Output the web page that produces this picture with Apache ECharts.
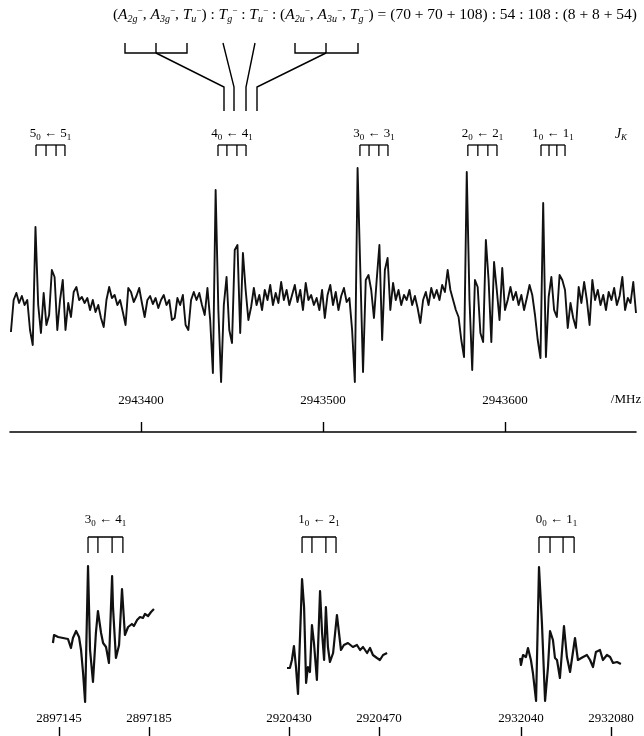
<!DOCTYPE html>
<html>
<head>
<meta charset="utf-8">
<script src="https://cdn.jsdelivr.net/npm/echarts@6/dist/echarts.min.js"></script>
<style>
html,body{margin:0;padding:0;background:#fff;}
#c{width:644px;height:736px;}
</style>
</head>
<body>
<div id="c"></div>
<script>
// ---------- DATA ----------
// main spectrum (MHz sampling grid, intensity in arbitrary units)
const mainStart = 2943328.5;
const mainStep = 1.5;
const mainIntensity = [
 -32, 0, 7, -3, 4, -5, 0, -30, -45, 73,
 -5, -33, 7, -25, -15, 30, 23, -30, 0, 20,
 -30, -3, -17, 8, 13, 0, 3, -3, 2, -10,
 0, -12, -5, -18, -27, 0, 13, 2, 5, -5,
 0, -12, -25, 12, 8, -2, 4, 12, -3, -17,
 0, 4, -4, 2, -8, 0, 5, -5, 0, -20,
 -18, 2, -5, 5, -25, -30, 0, 8, 0, 7,
 -5, -15, 12, -20, -73, 110, -10, -82, -5, 23,
 -30, -43, 50, 55, -33, 47, 10, -20, -7, 12,
 -5, 5, -10, 10, 0, 15, -5, 7, -3, 18,
 0, 10, -5, 5, 15, -2, 10, -10, 17, 0,
 5, -5, 2, -10, 10, -18, 5, 15, -5, 8,
 -10, 4, 12, -2, 2, -30, -82, 132, 30, -72,
 20, 25, 10, -18, 20, 55, -40, 30, 42, -10,
 17, 0, 10, -5, 5, 0, 10, -5, 4, -8,
 -23, 0, 8, -5, 12, 2, 10, 0, 15, 8,
 30, 10, 0, -10, -17, -40, -57, 128, 0, -70,
 20, 13, -33, -42, 60, 20, -42, 38, 10, -20,
 32, -10, 0, 13, 0, 8, -5, 5, -10, 2,
 15, 5, -15, -40, -58, 97, -57, 3, 23, -10,
 -17, 25, 20, 10, -28, -3, -18, -28, 13, -3,
 18, 0, -25, 20, 0, 10, -5, 5, -10, 8,
 0, 12, -5, 4, 23, -10, 2, -3, 18, -13
];
const mainTicks = [2943400, 2943500, 2943600];
const mainLevels = [['5','0','5','1'], ['4','0','4','1'], ['3','0','3','1'], ['2','0','2','1'], ['1','0','1','1']];
const mainSticks = [
 [2943342.3, 2943347.8, 2943353.3, 2943358.2],
 [2943442.3, 2943447.2, 2943452.7, 2943457.7],
 [2943520.3, 2943525.3, 2943530.7, 2943535.7],
 [2943579.6, 2943585.1, 2943590.6, 2943595.6],
 [2943619.8, 2943624.2, 2943628.5, 2943633.0]
];

// lower panels
const p1Freq = [2897142.3, 2897142.8, 2897144.6, 2897146.8, 2897149.0, 2897150.3, 2897151.2, 2897152.6, 2897153.9, 2897154.8,
 2897155.7, 2897156.6, 2897157.9, 2897158.8, 2897160.1, 2897161.4, 2897162.3, 2897163.7, 2897164.6, 2897165.9,
 2897167.2, 2897168.6, 2897169.0, 2897170.3, 2897171.7, 2897173.0, 2897174.3, 2897175.7, 2897177.4, 2897178.3,
 2897179.7, 2897181.0, 2897182.3, 2897183.2, 2897184.6, 2897185.9, 2897187.2];
const p1Int = [-7, 1, -1, -2, -3, -12, -2, 5, -1, -14, -37, -66, 70, -14, -46, 3, 25, 3, -7, -11,
 -27, 60, 29, -22, -9, 47, 1, 9, 12, 10, 16, 19, 18, 22, 20, 24, 27];
const p1Ticks = [2897145, 2897185];
const p1Sticks = [2897157.9, 2897162.3, 2897168.6, 2897173.4];
const p1Level = ['3','0','4','1'];

const p2Freq = [2920429.1, 2920430.4, 2920431.3, 2920432.2, 2920433.1, 2920434.0, 2920435.8, 2920436.7, 2920437.6, 2920438.4,
 2920439.3, 2920440.2, 2920441.1, 2920442.4, 2920443.8, 2920444.7, 2920445.6, 2920446.4, 2920447.3, 2920448.2,
 2920449.6, 2920451.3, 2920453.1, 2920454.4, 2920456.2, 2920458.4, 2920460.2, 2920461.6, 2920462.9, 2920464.7,
 2920466.0, 2920467.3, 2920469.1, 2920470.4, 2920471.8, 2920473.6];
const p2Int = [-32, -32, -24, -10, -31, -58, 57, 29, -47, -31, -36, 11, -7, -44, 45, 3, -24, 29, -11, -26,
 -17, 21, -14, -9, -7, -11, -9, -14, -11, -17, -12, -19, -22, -24, -19, -17];
const p2Ticks = [2920430, 2920470];
const p2Sticks = [2920435.8, 2920440.2, 2920446.4, 2920450.9];
const p2Level = ['1','0','2','1'];

const p3Freq = [2932039.6, 2932040.0, 2932040.9, 2932042.2, 2932043.1, 2932044.4, 2932045.3, 2932046.7, 2932048.0, 2932049.3,
 2932050.7, 2932052.0, 2932052.9, 2932054.2, 2932055.1, 2932056.0, 2932057.3, 2932059.1, 2932060.4, 2932061.8,
 2932064.0, 2932065.3, 2932067.6, 2932069.3, 2932070.7, 2932072.0, 2932073.3, 2932075.1, 2932076.4, 2932078.2,
 2932079.6, 2932080.9, 2932082.7, 2932084.4];
const p3Int = [-22, -29, -19, -21, -12, -24, -37, -65, 69, 13, -65, -31, 5, -4, -22, -24, -42, 10, -21, -36,
 -2, -24, -21, -19, -24, -31, -16, -14, -24, -19, -21, -27, -26, -28];
const p3Ticks = [2932040, 2932080];
const p3Sticks = [2932048.0, 2932052.9, 2932058.7, 2932063.6];
const p3Level = ['0','0','1','1'];

// ---------- CHART ----------
const SERIF = '"Liberation Serif", "DejaVu Serif", serif';
const richLab = {
  n: {fontFamily: SERIF, fontSize: 13, color: '#000'},
  s: {fontFamily: SERIF, fontSize: 9, color: '#000', padding: [8, 0, 0, 0]}
};
function lvl(a) { return '{n|' + a[0] + '}{s|' + a[1] + '}{n| \u2190 ' + a[2] + '}{s|' + a[3] + '}'; }

const mainData = mainIntensity.map((v, i) => [mainStart + i * mainStep, v]);
const pair = (f, v) => f.map((x, i) => [x, v[i]]);

function stickSeries(idx, sticks, labels, yTop, yBot, yLab) {
  return {
    type: 'custom', xAxisIndex: idx, yAxisIndex: idx, clip: false, silent: true, animation: false,
    data: sticks.map((s, k) => [s[0], s[1], s[2], s[3], k]),
    dimensions: ['a', 'b', 'c', 'd', 'k'],
    encode: {x: [0, 1, 2, 3]},
    renderItem(params, api) {
      const k = api.value(4);
      const xs = [0, 1, 2, 3].map(j => api.coord([api.value(j), yTop])[0]);
      const yT = api.coord([api.value(0), yTop])[1];
      const yB = api.coord([api.value(0), yBot])[1];
      const yL = api.coord([api.value(0), yLab])[1];
      const st = {stroke: '#000', lineWidth: 1.3};
      const ch = [{type: 'line', shape: {x1: xs[0], y1: yT, x2: xs[3], y2: yT}, style: st}];
      xs.forEach(x => ch.push({type: 'line', shape: {x1: x, y1: yT, x2: x, y2: yB}, style: st}));
      ch.push({type: 'text', style: {text: lvl(labels[k]), rich: richLab, x: (xs[0] + xs[3]) / 2, y: yL,
        align: 'center', verticalAlign: 'middle', fontFamily: SERIF}});
      return {type: 'group', children: ch};
    }
  };
}

function xAx(idx, min, max, ticks, showLine, tickLen, margin) {
  return {
    gridIndex: idx, type: 'value', min: min, max: max, position: 'bottom',
    axisLine: {show: showLine, onZero: false, lineStyle: {color: '#000', width: 1.6}},
    axisTick: {show: true, inside: true, length: tickLen, customValues: ticks, lineStyle: {color: '#000', width: 1.4}},
    axisLabel: {show: true, inside: true, margin: margin, customValues: ticks, formatter: v => String(v),
      fontFamily: SERIF, fontSize: 13, color: '#000'},
    splitLine: {show: false}
  };
}
function yAx(idx, min, max) {
  return {gridIndex: idx, type: 'value', min: min, max: max, show: false, splitLine: {show: false}};
}
const lineStyle = (w) => ({color: '#111', width: w, join: 'round'});

const chart = echarts.init(document.getElementById('c'));
chart.setOption({
  animation: false,
  backgroundColor: '#fff',
  grid: [
    {left: 10, width: 626, top: 100, height: 332},
    {left: 36.5, width: 135, top: 500, height: 236},
    {left: 266.5, width: 135, top: 500, height: 236},
    {left: 498.5, width: 135, top: 500, height: 236}
  ],
  xAxis: [
    xAx(0, 2943328, 2943672, mainTicks, true, 10, 25),
    xAx(1, 2897135, 2897195, p1Ticks, false, 9, 11),
    xAx(2, 2920420, 2920480, p2Ticks, false, 9, 11),
    xAx(3, 2932030, 2932090, p3Ticks, false, 9, 11)
  ],
  yAxis: [yAx(0, -132, 200), yAx(1, -100, 136), yAx(2, -100, 136), yAx(3, -100, 136)],
  series: [
    {type: 'line', xAxisIndex: 0, yAxisIndex: 0, data: mainData, showSymbol: false, lineStyle: lineStyle(1.9), silent: true},
    {type: 'line', xAxisIndex: 1, yAxisIndex: 1, data: pair(p1Freq, p1Int), showSymbol: false, lineStyle: lineStyle(2.2), silent: true},
    {type: 'line', xAxisIndex: 2, yAxisIndex: 2, data: pair(p2Freq, p2Int), showSymbol: false, lineStyle: lineStyle(2.2), silent: true},
    {type: 'line', xAxisIndex: 3, yAxisIndex: 3, data: pair(p3Freq, p3Int), showSymbol: false, lineStyle: lineStyle(2.2), silent: true},
    stickSeries(0, mainSticks, mainLevels, 155, 144, 166),
    stickSeries(1, [p1Sticks], [p1Level], 99, 83, 116),
    stickSeries(2, [p2Sticks], [p2Level], 99, 83, 116),
    stickSeries(3, [p3Sticks], [p3Level], 99, 83, 116)
  ],
  graphic: [
    {type: 'text', x: 637, y: 15, style: {
      text: '{n|(}{i|A}{b|2g}{p|\u2212}{n|, }{i|A}{b|3g}{p|\u2212}{n|, }{i|T}{b|u}{p|\u2212}{n|) : }{i|T}{b|g}{p|\u2212}{n| : }{i|T}{b|u}{p|\u2212}{n| : (}{i|A}{b|2u}{p|\u2212}{n|, }{i|A}{b|3u}{p|\u2212}{n|, }{i|T}{b|g}{p|\u2212}{n|) = (70 + 70 + 108) : 54 : 108 : (8 + 8 + 54)}',
      align: 'right', verticalAlign: 'middle',
      rich: {
        n: {fontFamily: SERIF, fontSize: 15.5, color: '#000'},
        i: {fontFamily: SERIF, fontSize: 15.5, fontStyle: 'italic', color: '#000'},
        b: {fontFamily: SERIF, fontSize: 10, fontStyle: 'italic', color: '#000', padding: [9, 0, 0, 0]},
        p: {fontFamily: SERIF, fontSize: 9, color: '#000', padding: [0, 0, 9, 0]}
      }
    }},
    {type: 'polyline', shape: {points: [[125, 43], [125, 53], [187, 53], [187, 43]]}, style: {stroke: '#000', lineWidth: 1.4, fill: null}},
    {type: 'line', shape: {x1: 156, y1: 43, x2: 156, y2: 53}, style: {stroke: '#000', lineWidth: 1.4}},
    {type: 'polyline', shape: {points: [[156, 53], [224, 87], [224, 111]]}, style: {stroke: '#000', lineWidth: 1.4, fill: null}},
    {type: 'polyline', shape: {points: [[223, 43], [234, 87], [234, 111]]}, style: {stroke: '#000', lineWidth: 1.4, fill: null}},
    {type: 'polyline', shape: {points: [[255, 43], [246, 87], [246, 111]]}, style: {stroke: '#000', lineWidth: 1.4, fill: null}},
    {type: 'polyline', shape: {points: [[295, 43], [295, 53], [358, 53], [358, 43]]}, style: {stroke: '#000', lineWidth: 1.4, fill: null}},
    {type: 'line', shape: {x1: 326, y1: 43, x2: 326, y2: 53}, style: {stroke: '#000', lineWidth: 1.4}},
    {type: 'polyline', shape: {points: [[326, 53], [257, 87], [257, 111]]}, style: {stroke: '#000', lineWidth: 1.4, fill: null}},
    {type: 'text', x: 626, y: 400, style: {text: '/MHz', fontFamily: SERIF, fontSize: 13, fill: '#000', align: 'center', verticalAlign: 'middle'}},
    {type: 'text', x: 621, y: 134, style: {text: '{i|J}{b|K}', align: 'center', verticalAlign: 'middle',
      rich: {
        i: {fontFamily: SERIF, fontSize: 14, fontStyle: 'italic', color: '#000'},
        b: {fontFamily: SERIF, fontSize: 9, fontStyle: 'italic', color: '#000', padding: [8, 0, 0, 0]}
      }}}
  ]
});
</script>
</body>
</html>
